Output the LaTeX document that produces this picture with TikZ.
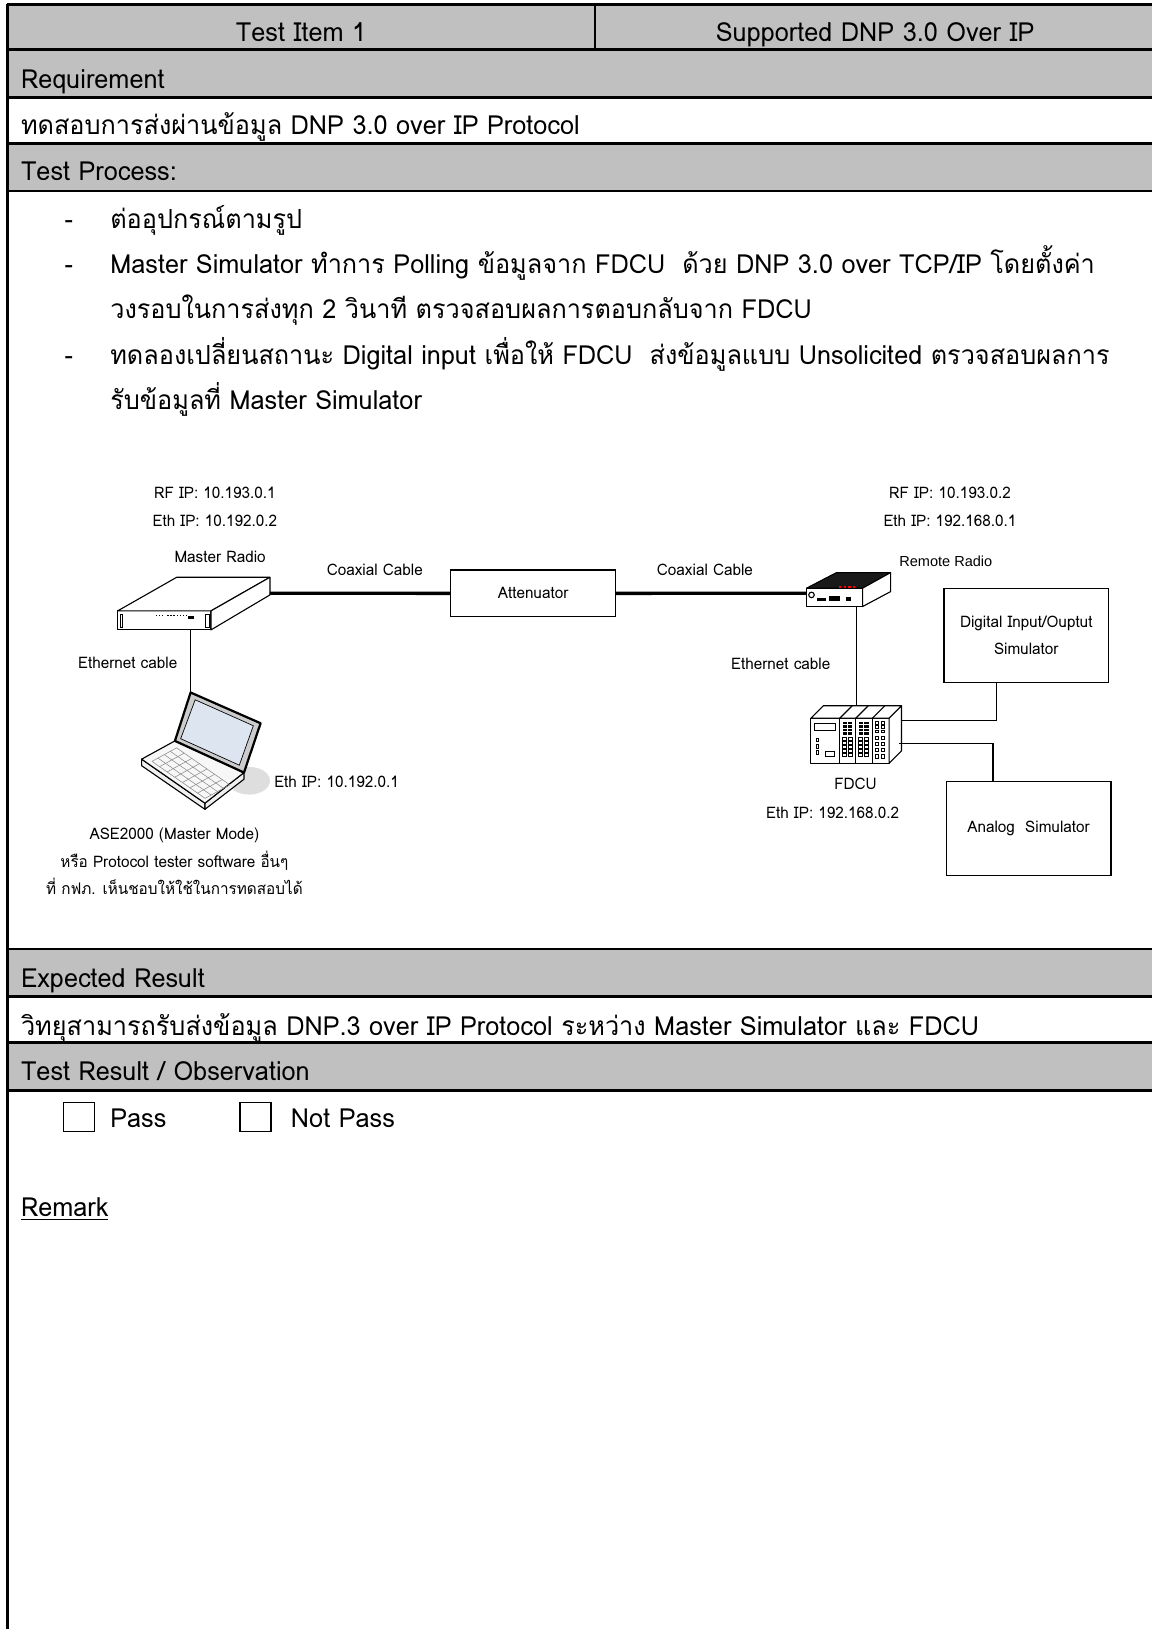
\documentclass[tikz,border=0pt]{standalone}
\usepackage{fontspec}
\setmainfont[Script=Thai,FakeStretch=0.96]{Loma}
\newfontfamily\arialfont{Liberation Sans}
\usetikzlibrary{calc}
\definecolor{rowgrey}{HTML}{C0C0C0}
\definecolor{screenblue}{HTML}{DDE5F0}
\tikzset{%
	rule/.style     = {line width=2pt},
	bandrow/.style  = {fill=rowgrey},
	bodytext/.style = {anchor=base west, inner sep=0pt, font=\fontsize{19}{23}\selectfont},
	headtext/.style = {anchor=base, inner sep=0pt, font=\fontsize{19}{23}\selectfont},
	tag/.style      = {inner sep=0pt, font=\fontsize{11.5}{14}\selectfont},
	simbox/.style   = {draw, line width=0.9pt, minimum width=119pt, minimum height=67.5pt, align=center, font=\fontsize{11.5}{19.5}\selectfont},
	tickbox/.style  = {draw, line width=1pt, minimum width=22.5pt, minimum height=21pt, inner sep=0pt},
	coax/.style     = {line width=2.4pt},
	ethline/.style  = {line width=0.8pt},
	device/.style   = {draw, line width=0.8pt, line join=round, fill=white},
	keyline/.style  = {draw=black!45, line width=0.4pt},
}
\begin{document}
\begin{tikzpicture}[x=0.75pt,y=-0.75pt]
	\useasboundingbox (0,0) rectangle (1110,1569);

	% table frame
	\foreach \a/\b in {4/48,48/94,138/184,914/960,1004/1050}
		\fill[bandrow] (7,\a) rectangle (1110,\b);
	\foreach \y in {4,48,94,138,184,914,960,1004,1050}
		\draw[rule] (7,\y) -- (1110,\y);
	\draw[rule] (7,4) -- (7,1569);
	\draw[rule] (573,4) -- (573,48);

	\node[headtext] (item) at (290,40) {Test Item 1};
	\node[headtext] (title) at (843,40) {Supported DNP 3.0 Over IP};
	\node[bodytext] (reqhead) at (20,85) {Requirement};
	\node[bodytext] (req) at (20,130) {ทดสอบการส่งผ่านข้อมูล DNP 3.0 over IP Protocol};
	\node[bodytext] (prochead) at (20,174) {Test Process:};

	% steps
	\foreach \y in {220,263,351}
		\node[bodytext] (dash\y) at (62,\y) {-};
	\node[bodytext] (step1) at (106,220) {ต่ออุปกรณ์ตามรูป};
	\node[bodytext] (step2a) at (106,263) {Master Simulator ทำการ Polling ข้อมูลจาก FDCU~ ด้วย DNP 3.0 over TCP/IP โดยตั้งค่า};
	\node[bodytext] (step2b) at (106,307) {วงรอบในการส่งทุก 2 วินาที ตรวจสอบผลการตอบกลับจาก FDCU};
	\node[bodytext] (step3a) at (106,351) {ทดลองเปลี่ยนสถานะ Digital input เพื่อให้ FDCU~ ส่งข้อมูลแบบ Unsolicited ตรวจสอบผลการ};
	\node[bodytext] (step3b) at (106,394) {รับข้อมูลที่ Master Simulator};

	% master radio
	\draw[device] (113.3,588.4) rectangle (203.2,606.7);
	\draw[device] (113.3,588.4) -- (170.2,556) -- (260,556) -- (203.2,588.4) -- cycle;
	\draw[device] (203.2,588.4) -- (260,556) -- (260,573) -- (203.2,606.7) -- cycle;
	\draw[line width=0.6pt] (115.6,591.3) rectangle (118.1,604.1);
	\draw[line width=0.6pt] (198,591.3) rectangle (201.3,604.1);
	\foreach \x in {150,153,156,161,164,167,170,173,176,179}
		\fill (\x,592.2) rectangle +(1.4,1.2);
	\fill (180.7,593.2) rectangle (186.8,596.4);
	\coordinate (mradio-port) at (260,571.4);
	\coordinate (mradio-eth) at (183.6,606.7);

	% laptop
	\fill[black!13] (240,752) ellipse [x radius=15pt, y radius=10pt];
	\draw[device, fill=black!6] (136.4,731.2) -- (197.4,773.6) -- (197.4,779.5) -- (136.4,737.5) -- cycle;
	\draw[device, fill=black!6] (197.4,773.6) -- (235,744.1) -- (235,750.5) -- (197.4,779.5) -- cycle;
	\draw[device, fill=black!3] (136.4,731.2) -- (168.5,713.6) -- (235,744.1) -- (197.4,773.6) -- cycle;
	\begin{scope}[shift={(136.4,731.2)}, x={(45.75pt,-31.8pt)}, y={(24.08pt,13.2pt)}]
		\foreach \u in {0.10,0.22,...,0.95}
			\draw[keyline] (\u,0.12) -- (\u,0.86);
		\foreach \v in {0.12,0.30,0.49,0.67,0.86}
			\draw[keyline] (0.10,\v) -- (0.94,\v);
	\end{scope}
	\draw[device, line width=1.6pt, fill=black!20] (183.6,667) -- (251,696.6) -- (235,744.1) -- (168.5,713.6) -- cycle;
	\draw[line width=0.5pt, fill=screenblue] (188,674) -- (244,699) -- (230.5,737) -- (174,711.5) -- cycle;
	\coordinate (laptop-top) at (183.6,667);

	% remote radio
	\draw[device] (776.8,566.5) rectangle (830.8,584.2);
	\draw[device, fill=black!90] (776.8,566.5) -- (805.7,551.5) -- (857.8,551.5) -- (830.8,566.5) -- cycle;
	\draw[device] (830.8,566.5) -- (857.8,551.5) -- (857.8,569.8) -- (830.8,584.2) -- cycle;
	\foreach \x in {808,812.5,817,821.5}
		\fill[red] (\x,564.6) rectangle +(2.2,1.6);
	\draw[line width=0.8pt] (781.6,573) circle [radius=2pt];
	\fill (786.5,575.5) rectangle (796,578.5);
	\fill (798,574.5) rectangle (809,578.5);
	\fill (815,575) rectangle (820,578.5);
	\coordinate (rradio-port) at (776.8,571.4);
	\coordinate (rradio-eth) at (825,584.2);

	% fdcu rack
	\draw[device] (781,691.7) rectangle (856.4,735.1);
	\draw[device] (781,691.7) -- (792.9,679.8) -- (868.3,679.8) -- (856.4,691.7) -- cycle;
	\draw[device] (856.4,691.7) -- (868.3,679.8) -- (868.3,723.2) -- (856.4,735.1) -- cycle;
	\foreach \x in {808.9,824.3,840.4} {
		\draw[line width=0.8pt] (\x,691.7) -- (\x,735.1);
		\draw[line width=0.8pt] (\x,691.7) -- ++(11.9,-11.9);
	}
	\draw[line width=0.6pt] (784.8,697) rectangle (805,703.6);
	\foreach \y in {711,717,723}
		\draw[line width=0.6pt] (786,\y) rectangle +(2.2,3.5);
	\draw[line width=0.6pt] (795,724) rectangle (804,729);
	\foreach \x in {811.5,817} {
		\foreach \y in {695,698.5,702,705.5}
			\fill (\x,\y) rectangle +(4,2.4);
		\foreach \y in {710,714,718,722,726}
			\draw[line width=0.4pt] (\x,\y) rectangle +(3.8,2.8);
	}
	\foreach \x in {827,832.5} {
		\foreach \y in {695,698.5,702,705.5}
			\fill (\x,\y) rectangle +(4,2.4);
		\foreach \y in {710,714,718,722,726}
			\draw[line width=0.4pt] (\x,\y) rectangle +(3.8,2.8);
	}
	\foreach \x in {843,849} {
		\foreach \y in {695,699,703}
			\draw[line width=0.5pt] (\x,\y) rectangle +(3,2.4);
		\foreach \y in {709,715,721,727}
			\draw[line width=0.6pt] (\x,\y) rectangle +(3.2,3.2);
	}
	\coordinate (fdcu-top) at (825,679.8);
	\coordinate (fdcu-dio) at (868.3,694);
	\coordinate (fdcu-ana) at (866,716.5);

	% boxes
	\node[simbox, minimum height=33.75pt] (att) at (513.5,571.5) {Attenuator};
	\node[simbox] (dio) at (988.5,612) {Digital Input/Ouptut\\Simulator};
	\node[simbox] (ana) at (990.7,798) {Analog~ Simulator};

	% cables
	\draw[coax] (mradio-port) -- (att.west);
	\draw[coax] (att.east) -- (rradio-port);
	\draw[ethline] (mradio-eth) -- (laptop-top);
	\draw[ethline] (rradio-eth) -- (fdcu-top);
	\draw[ethline] (fdcu-dio) -| ([xshift=38.25pt]dio.south west);
	\draw[ethline] (fdcu-ana) -| ([xshift=34.2pt]ana.north west);

	% labels
	\node[tag] (rfm) at (207,475) {RF IP: 10.193.0.1};
	\node[tag] (ethm) at (207,502) {Eth IP: 10.192.0.2};
	\node[tag] (mname) at (212,536) {Master Radio};
	\node[tag] (coaxl) at (361,549) {Coaxial Cable};
	\node[tag] (coaxr) at (679,549) {Coaxial Cable};
	\node[tag, font=\arialfont\fontsize{10.5}{12}\selectfont] (rname) at (911,541) {Remote Radio};
	\node[tag] (rfr) at (915,475) {RF IP: 10.193.0.2};
	\node[tag] (ethr) at (915,502) {Eth IP: 192.168.0.1};
	\node[tag] (ethcabr) at (752,639) {Ethernet cable};
	\node[tag] (ethcabl) at (123,638) {Ethernet cable};
	\node[tag, anchor=west] (ethpc) at (264,753) {Eth IP: 10.192.0.1};
	\node[tag] (fdcu) at (824,755) {FDCU};
	\node[tag] (ethf) at (802,783) {Eth IP: 192.168.0.2};
	\node[tag, anchor=base] (ase) at (168,809) {ASE2000 (Master Mode)};
	\node[tag, anchor=base] (ase2) at (168,836) {หรือ Protocol tester software อื่นๆ};
	\node[tag, anchor=base] (ase3) at (168,862) {ที่ กฟภ. เห็นชอบให้ใช้ในการทดสอบได้};

	% results
	\node[bodytext] (exphead) at (20,951) {Expected Result};
	\node[bodytext] (exp) at (20,997) {วิทยุสามารถรับส่งข้อมูล DNP.3 over IP Protocol ระหว่าง Master Simulator และ FDCU};
	\node[bodytext] (reshead) at (20,1041) {Test Result / Observation};
	\node[tickbox] (passbox) at (76,1076) {};
	\node[bodytext] (pass) at (106,1086) {Pass};
	\node[tickbox] (failbox) at (246,1076) {};
	\node[bodytext] (fail) at (280,1086) {Not Pass};
	\node[bodytext] (remark) at (20,1172) {\underline{Remark}};
\end{tikzpicture}
\end{document}
